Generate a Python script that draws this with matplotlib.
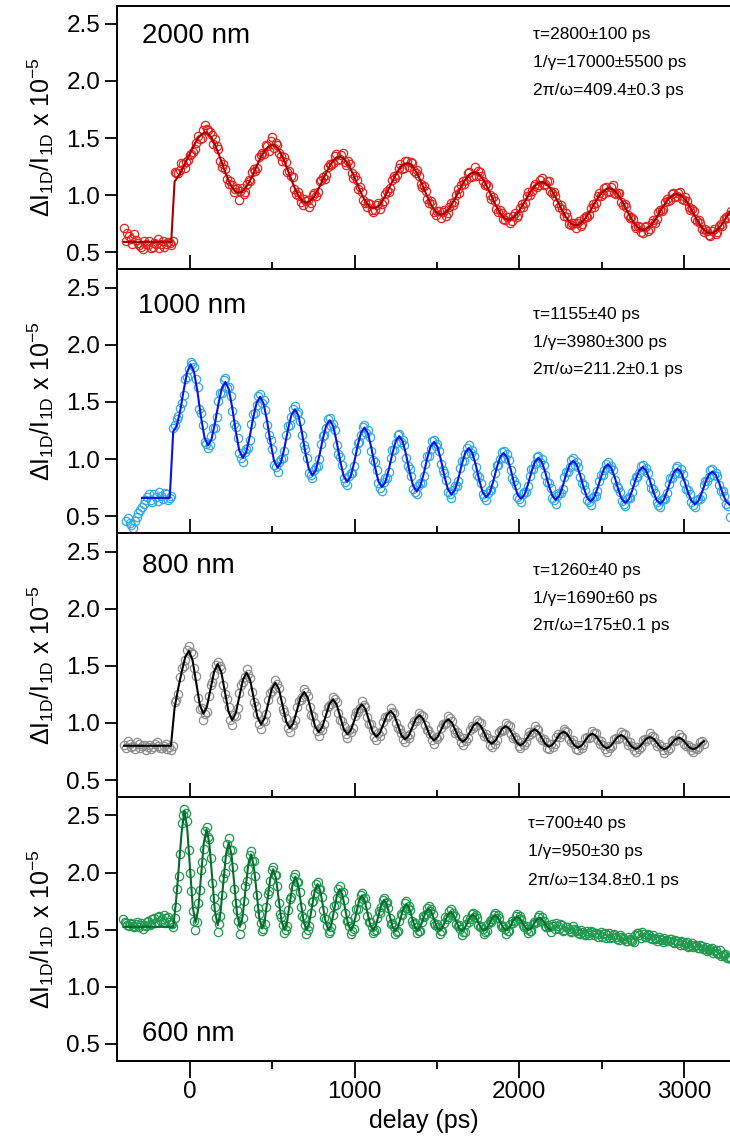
import numpy as np
import matplotlib
matplotlib.use('Agg')
import matplotlib.pyplot as plt
from matplotlib.ticker import MultipleLocator, FormatStrFormatter

# plt settings
plt.rcParams['font.family'] = ['Liberation Sans', 'DejaVu Sans']
plt.rcParams['mathtext.default'] = 'regular'

nan = np.nan

# ---- 2000 nm: two interleaved scans, each sampled every 2pi/w / 20 ----
t_2000 = np.arange(181) * 20.47 - 400.3
t_2000b = np.arange(180) * 20.47 - 390.07
sig_2000 = [
    0.71, 0.67, 0.62, 0.66, 0.58, 0.55, 0.60, 0.56, 0.54, 0.58, 0.62, 0.57, 0.55, 0.59, 0.56,
    1.20, 1.19, 1.28, 1.24, 1.31, 1.36, 1.40, 1.52, 1.50,
    1.61, 1.57, 1.53, 1.49, 1.40, 1.25, 1.23, 1.10, 1.09, 1.05,
    0.96, 1.06, 1.03, 1.13, 1.20, 1.21, 1.33, 1.37, 1.44, 1.39,
    1.51, 1.46, 1.37, 1.30, 1.29, 1.21, 1.16, 1.01, 0.99, 0.91,
    0.95, 0.90, 1.00, 0.99, 1.12, 1.16, 1.18, 1.27, 1.28, 1.36,
    1.32, 1.37, 1.26, 1.27, 1.15, 1.13, 1.07, 0.96, 0.90, 0.92,
    0.85, 0.91, 0.88, 0.95, 1.04, 1.06, 1.17, 1.18, 1.27, 1.24,
    1.30, 1.29, 1.21, 1.22, 1.10, 1.08, 0.97, 0.95, 0.85, 0.86,
    0.80, 0.87, 0.84, 0.93, 0.94, 1.05, 1.09, 1.10, 1.19, 1.16,
    1.25, 1.21, 1.17, 1.09, 1.08, 0.97, 0.95, 0.85, 0.84, 0.78,
    0.81, 0.77, 0.84, 0.83, 0.92, 0.93, 1.03, 1.04, 1.10, 1.09,
    1.15, 1.10, 1.12, 1.02, 0.99, 0.90, 0.88, 0.84, 0.75, 0.76,
    0.71, 0.77, 0.75, 0.82, 0.83, 0.92, 0.93, 1.02, 1.01, 1.07,
    1.04, 1.09, 1.01, 1.02, 0.91, 0.90, 0.80, 0.79, 0.71, 0.72,
    0.67, 0.73, 0.70, 0.78, 0.79, 0.87, 0.88, 0.97, 0.96, 1.02,
    0.99, 1.03, 0.96, 0.95, 0.87, 0.86, 0.77, 0.76, 0.68, 0.69,
    0.64, 0.70, 0.68, 0.75, 0.79, 0.80, 0.86,
]
sig_2000b = [
    0.60, 0.64, 0.57, 0.61, 0.56, 0.53, 0.57, 0.60, 0.55, 0.57, 0.54, 0.60, 0.57, 0.58,
    0.60,
    1.19, 1.22, 1.27, 1.29, 1.35, 1.38, 1.46, 1.49, 1.57,
    1.58, 1.55, 1.45, 1.43, 1.30, 1.27, 1.14, 1.12, 1.03, 1.06,
    1.04, 1.01, 1.10, 1.12, 1.23, 1.24, 1.35, 1.36, 1.43, 1.47,
    1.41, 1.44, 1.34, 1.33, 1.20, 1.17, 1.05, 1.03, 0.94, 0.97,
    0.96, 0.93, 1.02, 1.03, 1.13, 1.14, 1.25, 1.26, 1.34, 1.31,
    1.35, 1.29, 1.30, 1.19, 1.17, 1.05, 1.03, 0.93, 0.93, 0.87,
    0.87, 0.93, 0.92, 1.01, 1.03, 1.13, 1.15, 1.24, 1.23, 1.30,
    1.25, 1.28, 1.19, 1.17, 1.07, 1.04, 0.93, 0.92, 0.83, 0.86,
    0.85, 0.82, 0.90, 0.91, 1.00, 1.02, 1.12, 1.13, 1.20, 1.17,
    1.17, 1.20, 1.12, 1.10, 1.00, 0.98, 0.88, 0.87, 0.79, 0.81,
    0.76, 0.82, 0.81, 0.89, 0.90, 0.99, 1.00, 1.08, 1.07, 1.13,
    1.09, 1.12, 1.04, 1.03, 0.93, 0.91, 0.82, 0.81, 0.74, 0.76,
    0.76, 0.73, 0.80, 0.81, 0.89, 0.90, 0.99, 0.99, 1.06, 1.03,
    1.07, 1.02, 1.02, 0.94, 0.92, 0.83, 0.81, 0.73, 0.73, 0.68,
    0.72, 0.69, 0.76, 0.76, 0.85, 0.86, 0.94, 0.95, 1.01, 0.98,
    1.02, 0.97, 0.98, 0.90, 0.88, 0.79, 0.78, 0.70, 0.70, 0.65,
    0.69, 0.66, 0.73, 0.73, 0.81, 0.83,
]
fit_2000 = [
    0.59, 0.59, 0.59, 0.59, 0.59, 0.59, 0.59, 0.59, 0.59, 0.59, 0.59, 0.59, 0.59, 0.59, 0.59,
    1.12, 1.16, 1.21, 1.27, 1.33, 1.39, 1.45, 1.50, 1.53,
    1.550, 1.537, 1.499, 1.441, 1.367, 1.285, 1.203, 1.129, 1.071, 1.033,
    1.020, 1.030, 1.060, 1.107, 1.165, 1.230, 1.295, 1.353, 1.400, 1.430,
    1.440, 1.428, 1.392, 1.336, 1.265, 1.187, 1.109, 1.038, 0.982, 0.946,
    0.934, 0.944, 0.972, 1.017, 1.073, 1.135, 1.197, 1.253, 1.298, 1.326,
    1.336, 1.325, 1.293, 1.243, 1.180, 1.110, 1.041, 0.978, 0.928, 0.896,
    0.885, 0.894, 0.922, 0.966, 1.021, 1.082, 1.143, 1.199, 1.242, 1.270,
    1.280, 1.269, 1.237, 1.187, 1.125, 1.055, 0.985, 0.923, 0.873, 0.841,
    0.830, 0.839, 0.865, 0.906, 0.958, 1.015, 1.072, 1.124, 1.165, 1.191,
    1.200, 1.190, 1.161, 1.115, 1.057, 0.993, 0.929, 0.871, 0.825, 0.796,
    0.785, 0.793, 0.817, 0.853, 0.899, 0.950, 1.001, 1.047, 1.083, 1.107,
    1.115, 1.106, 1.079, 1.037, 0.984, 0.925, 0.866, 0.813, 0.771, 0.744,
    0.735, 0.743, 0.767, 0.802, 0.848, 0.898, 0.948, 0.994, 1.029, 1.052,
    1.060, 1.052, 1.026, 0.985, 0.934, 0.878, 0.822, 0.771, 0.730, 0.704,
    0.695, 0.703, 0.726, 0.760, 0.804, 0.853, 0.902, 0.946, 0.980, 1.003,
    1.010, 1.002, 0.978, 0.939, 0.891, 0.838, 0.785, 0.737, 0.698, 0.674,
    0.665, 0.673, 0.695, 0.728, 0.771, 0.818, 0.865,
]

# ---- 1000 nm: sampled every 2pi/w / 10 ----
t_1000 = np.arange(176) * 21.12 - 418.4
t_1000b = np.arange(175) * 21.12 - 407.84
sig_1000 = [
    nan, nan, 0.48, 0.42, 0.46, 0.53, 0.58, 0.64, 0.69, 0.62, 0.67, 0.71, 0.65, 0.69, 0.66,
    1.27, 1.35, 1.45, 1.56, 1.72,
    1.85, 1.81, 1.63, 1.40, 1.15, 1.10, 1.20, 1.27, 1.51, 1.58,
    1.71, 1.63, 1.42, 1.28, 1.05, 0.97, 1.09, 1.17, 1.39, 1.47,
    1.57, 1.52, 1.30, 1.17, 0.95, 0.89, 1.00, 1.07, 1.29, 1.37,
    1.46, 1.41, 1.21, 1.09, 0.88, 0.83, 0.93, 1.00, 1.20, 1.27,
    1.36, 1.31, 1.12, 1.02, 0.83, 0.77, 0.88, 0.94, 1.14, 1.21,
    1.30, 1.25, 1.07, 0.97, 0.79, 0.72, 0.83, 0.89, 1.08, 1.14,
    1.22, 1.17, 1.01, 0.91, 0.74, 0.69, 0.79, 0.85, 1.03, 1.09,
    1.17, 1.13, 0.96, 0.88, 0.71, 0.66, 0.76, 0.81, 0.98, 1.04,
    1.12, 1.08, 0.93, 0.84, 0.69, 0.64, 0.73, 0.78, 0.95, 1.00,
    1.07, 1.04, 0.90, 0.81, 0.67, 0.62, 0.71, 0.76, 0.91, 0.96,
    1.03, 1.00, 0.86, 0.79, 0.66, 0.61, 0.70, 0.74, 0.89, 0.93,
    1.01, 0.97, 0.84, 0.77, 0.64, 0.60, 0.68, 0.72, 0.86, 0.90,
    0.97, 0.94, 0.82, 0.75, 0.63, 0.59, 0.67, 0.71, 0.84, 0.88,
    0.95, 0.92, 0.80, 0.74, 0.62, 0.58, 0.66, 0.70, 0.83, 0.87,
    0.94, 0.91, 0.79, 0.73, 0.62, 0.58, 0.65, 0.68, 0.81, 0.84,
    0.91, 0.88, 0.77, 0.72, 0.61, 0.49,
]
sig_1000b = [
    nan, 0.46, 0.44, 0.40, 0.49, 0.55, 0.61, 0.67, 0.64, 0.69, 0.63, 0.68, 0.70, 0.64, 0.68,
    1.30, 1.38, 1.49, 1.70, 1.79,
    1.83, 1.70, 1.44, 1.30, 1.13, 1.12, 1.27, 1.37, 1.58, 1.69,
    1.62, 1.55, 1.31, 1.18, 1.01, 1.06, 1.10, 1.31, 1.40, 1.55,
    1.49, 1.43, 1.21, 1.09, 0.93, 0.97, 1.01, 1.21, 1.30, 1.44,
    1.39, 1.33, 1.12, 1.01, 0.86, 0.90, 0.94, 1.13, 1.21, 1.35,
    1.29, 1.25, 1.04, 0.95, 0.80, 0.85, 0.88, 1.07, 1.15, 1.28,
    1.23, 1.19, 0.99, 0.90, 0.75, 0.80, 0.83, 1.01, 1.08, 1.21,
    1.15, 1.12, 0.94, 0.85, 0.71, 0.76, 0.79, 0.96, 1.03, 1.16,
    1.11, 1.07, 0.90, 0.82, 0.69, 0.73, 0.76, 0.92, 0.98, 1.10,
    1.05, 1.03, 0.86, 0.79, 0.67, 0.70, 0.73, 0.88, 0.95, 1.06,
    1.01, 0.99, 0.83, 0.77, 0.65, 0.69, 0.71, 0.85, 0.91, 1.02,
    0.97, 0.95, 0.80, 0.75, 0.64, 0.68, 0.70, 0.84, 0.89, 0.99,
    0.95, 0.93, 0.79, 0.73, 0.62, 0.66, 0.68, 0.81, 0.86, 0.96,
    0.92, 0.90, 0.76, 0.71, 0.61, 0.65, 0.66, 0.80, 0.84, 0.94,
    0.90, 0.88, 0.75, 0.70, 0.60, 0.64, 0.65, 0.78, 0.83, 0.92,
    0.88, 0.87, 0.74, 0.69, 0.60, 0.64, 0.65, 0.77, 0.81, 0.90,
    0.86, 0.85, 0.72, 0.68, 0.59,
]
fit_1000 = [
    nan, nan, nan, nan, nan, nan, 0.66, 0.66, 0.66, 0.66, 0.66, 0.66, 0.66, 0.66, 0.66,
    1.24, 1.29, 1.42, 1.60, 1.76,
    1.83, 1.762, 1.585, 1.365, 1.188, 1.12, 1.173, 1.312, 1.483, 1.622,
    1.675, 1.611, 1.445, 1.240, 1.074, 1.01, 1.061, 1.195, 1.360, 1.494,
    1.545, 1.486, 1.331, 1.139, 0.984, 0.925, 0.974, 1.101, 1.259, 1.386,
    1.435, 1.380, 1.235, 1.057, 0.912, 0.857, 0.903, 1.024, 1.173, 1.294,
    1.34, 1.288, 1.153, 0.987, 0.852, 0.80, 0.845, 0.964, 1.111, 1.230,
    1.275, 1.225, 1.095, 0.935, 0.805, 0.755, 0.797, 0.909, 1.046, 1.158,
    1.20, 1.154, 1.033, 0.885, 0.764, 0.718, 0.759, 0.867, 1.001, 1.109,
    1.15, 1.106, 0.991, 0.849, 0.734, 0.69, 0.729, 0.830, 0.956, 1.057,
    1.096, 1.055, 0.948, 0.815, 0.708, 0.667, 0.704, 0.800, 0.920, 1.016,
    1.053, 1.015, 0.915, 0.791, 0.691, 0.653, 0.687, 0.776, 0.887, 0.976,
    1.01, 0.975, 0.884, 0.770, 0.679, 0.644, 0.677, 0.762, 0.867, 0.952,
    0.985, 0.951, 0.862, 0.753, 0.664, 0.63, 0.661, 0.742, 0.841, 0.922,
    0.953, 0.921, 0.837, 0.733, 0.649, 0.617, 0.647, 0.725, 0.822, 0.900,
    0.93, 0.899, 0.819, 0.720, 0.640, 0.609, 0.638, 0.715, 0.809, 0.886,
    0.915, 0.885, 0.808, 0.712, 0.635, 0.605, 0.632, 0.703, 0.792, 0.863,
    0.89, 0.862, 0.790, 0.700, 0.628, 0.60,
]

# ---- 800 nm: sampled every 2pi/w / 8 ----
t_800 = np.arange(162) * 21.875 - 399.75
t_800b = np.arange(161) * 21.875 - 388.8
sig_800 = [
    0.81, 0.84, 0.79, 0.77, 0.82, 0.80, 0.76, 0.81, 0.79, 0.83, 0.78, 0.80, 0.77, 0.76,
    1.18, 1.25, 1.48, 1.55,
    1.67, 1.60, 1.41, 1.12, 1.03, 1.10, 1.33, 1.42,
    1.53, 1.47, 1.25, 1.14, 0.98, 1.06, 1.26, 1.36,
    1.47, 1.39, 1.18, 1.08, 0.95, 1.02, 1.20, 1.28,
    1.38, 1.31, 1.12, 1.04, 0.92, 0.98, 1.14, 1.20,
    1.30, 1.24, 1.07, 1.00, 0.89, 0.94, 1.09, 1.15,
    1.23, 1.18, 1.03, 0.97, 0.87, 0.92, 1.06, 1.10,
    1.19, 1.14, 0.99, 0.94, 0.85, 0.89, 1.01, 1.05,
    1.13, 1.09, 0.96, 0.91, 0.83, 0.87, 0.98, 1.02,
    1.09, 1.06, 0.94, 0.90, 0.82, 0.86, 0.96, 0.99,
    1.06, 1.02, 0.91, 0.89, 0.81, 0.84, 0.94, 0.96,
    1.03, 1.00, 0.89, 0.87, 0.79, 0.82, 0.92, 0.93,
    1.00, 0.97, 0.87, 0.85, 0.78, 0.81, 0.89, 0.90,
    0.97, 0.94, 0.85, 0.83, 0.77, 0.79, 0.88, 0.88,
    0.95, 0.92, 0.83, 0.82, 0.76, 0.78, 0.87, 0.87,
    0.93, 0.91, 0.82, 0.81, 0.75, 0.78, 0.86, 0.86,
    0.92, 0.90, 0.81, 0.80, 0.75, 0.77, 0.85, 0.84,
    0.91, 0.88, 0.80, 0.80, 0.74, 0.76, 0.84, 0.84,
    0.90, 0.88, 0.80, 0.79, 0.75, 0.77, 0.83, 0.82,
]
sig_800b = [
    0.78, 0.82, 0.80, 0.83, 0.78, 0.81, 0.79, 0.77, 0.82, 0.80, 0.78, 0.82, 0.79,
    0.80, 1.20, 1.40, 1.50, 1.64,
    1.62, 1.48, 1.22, 1.13, 1.08, 1.24, 1.36, 1.51,
    1.50, 1.33, 1.21, 1.03, 1.07, 1.13, 1.33, 1.40,
    1.43, 1.27, 1.15, 0.99, 1.03, 1.08, 1.26, 1.31,
    1.34, 1.20, 1.10, 0.96, 0.99, 1.03, 1.19, 1.23,
    1.27, 1.14, 1.06, 0.93, 0.96, 0.99, 1.14, 1.17,
    1.21, 1.09, 1.02, 0.90, 0.94, 0.96, 1.10, 1.13,
    1.16, 1.05, 0.99, 0.88, 0.91, 0.93, 1.05, 1.07,
    1.10, 1.00, 0.95, 0.86, 0.89, 0.90, 1.02, 1.04,
    1.07, 0.98, 0.94, 0.85, 0.88, 0.89, 0.99, 1.00,
    1.04, 0.95, 0.92, 0.83, 0.87, 0.87, 0.97, 0.97,
    1.01, 0.92, 0.90, 0.81, 0.85, 0.85, 0.94, 0.94,
    0.98, 0.90, 0.88, 0.80, 0.83, 0.83, 0.92, 0.92,
    0.95, 0.88, 0.86, 0.78, 0.82, 0.82, 0.90, 0.90,
    0.93, 0.86, 0.85, 0.77, 0.81, 0.81, 0.88, 0.88,
    0.91, 0.85, 0.84, 0.77, 0.80, 0.80, 0.87, 0.87,
    0.90, 0.84, 0.83, 0.76, 0.79, 0.79, 0.86, 0.86,
    0.89, 0.83, 0.82, 0.76, 0.79, 0.78, 0.85, 0.85,
    0.88, 0.82, 0.81, 0.76, 0.78, 0.79, 0.84,
]
fit_800 = [
    0.80, 0.80, 0.80, 0.80, 0.80, 0.80, 0.80, 0.80, 0.80, 0.80, 0.80, 0.80, 0.80, 0.80,
    1.13, 1.30, 1.45, 1.58,
    1.63, 1.549, 1.355, 1.161, 1.08, 1.144, 1.298, 1.451,
    1.515, 1.443, 1.27, 1.097, 1.025, 1.086, 1.233, 1.379,
    1.44, 1.374, 1.214, 1.054, 0.988, 1.041, 1.17, 1.299,
    1.352, 1.294, 1.153, 1.011, 0.953, 1.0, 1.112, 1.224,
    1.271, 1.22, 1.096, 0.971, 0.92, 0.962, 1.064, 1.165,
    1.207, 1.162, 1.054, 0.945, 0.90, 0.939, 1.032, 1.124,
    1.163, 1.121, 1.021, 0.921, 0.879, 0.912, 0.992, 1.071,
    1.104, 1.068, 0.98, 0.892, 0.856, 0.887, 0.962, 1.037,
    1.068, 1.036, 0.958, 0.88, 0.848, 0.875, 0.94, 1.005,
    1.032, 1.003, 0.934, 0.865, 0.836, 0.86, 0.919, 0.978,
    1.002, 0.975, 0.91, 0.845, 0.818, 0.841, 0.896, 0.95,
    0.973, 0.948, 0.889, 0.829, 0.804, 0.825, 0.874, 0.923,
    0.944, 0.922, 0.868, 0.814, 0.792, 0.811, 0.858, 0.904,
    0.923, 0.902, 0.853, 0.804, 0.783, 0.801, 0.845, 0.888,
    0.906, 0.887, 0.842, 0.797, 0.778, 0.795, 0.836, 0.877,
    0.894, 0.876, 0.833, 0.79, 0.772, 0.787, 0.825, 0.862,
    0.877, 0.861, 0.823, 0.785, 0.769, 0.784, 0.82, 0.856,
    0.871, 0.856, 0.82, 0.784, 0.769, 0.782, 0.815, 0.84,
]

# ---- 600 nm: sampled every 2pi/w / 8, fit stops near 2200 ps ----
t_600 = np.arange(220) * 16.85 - 404.5
t_600b = np.arange(219) * 16.85 - 396.08
sig_600 = [
    1.59, 1.56, 1.53, 1.55, 1.52, 1.57, 1.54, 1.51, 1.53, 1.58, 1.55, 1.60, 1.57, 1.62, 1.59, 1.56, 1.61, 1.55, 1.52,
    1.70, 1.97, 2.43,
    2.56, 2.45, 2.00, 1.66, 1.50, 1.73, 2.02, 2.21,
    2.40, 2.29, 1.91, 1.70, 1.48, 1.62, 1.95, 2.12,
    2.30, 2.20, 1.86, 1.67, 1.46, 1.60, 1.88, 2.03,
    2.19, 2.10, 1.80, 1.64, 1.49, 1.55, 1.81, 1.93,
    2.05, 1.98, 1.73, 1.61, 1.47, 1.53, 1.77, 1.88,
    1.99, 1.92, 1.70, 1.60, 1.46, 1.53, 1.74, 1.82,
    1.92, 1.86, 1.67, 1.59, 1.47, 1.52, 1.71, 1.78,
    1.88, 1.83, 1.65, 1.58, 1.46, 1.51, 1.68, 1.74,
    1.82, 1.78, 1.62, 1.57, 1.47, 1.50, 1.66, 1.70,
    1.78, 1.74, 1.60, 1.56, 1.46, 1.49, 1.64, 1.67,
    1.75, 1.71, 1.58, 1.56, 1.47, 1.49, 1.62, 1.64,
    1.71, 1.68, 1.56, 1.55, 1.46, 1.49, 1.61, 1.61,
    1.68, 1.65, 1.55, 1.54, 1.45, 1.48, 1.59, 1.59,
    1.65, 1.63, 1.54, 1.53, 1.46, 1.49, 1.58, 1.59,
    1.65, 1.63, 1.54, 1.53, 1.46, 1.49, 1.58, 1.58,
    1.64, 1.62, 1.54, 1.53, 1.47, 1.49, 1.57, 1.57,
    1.63, 1.61, 1.53, 1.54, 1.48,
    1.53, 1.56, 1.51, 1.54, 1.50, 1.52, 1.49, 1.53, 1.50,
    1.47, 1.50, 1.46, 1.49, 1.45, 1.48, 1.47, 1.44, 1.48,
    1.46, 1.43, 1.47, 1.44, 1.46, 1.42, 1.45, 1.43, 1.40, 1.44, 1.41, 1.39,
    1.47, 1.45, 1.48, 1.44, 1.46, 1.43, 1.45,
    1.42, 1.44, 1.41, 1.43, 1.40, 1.42, 1.39, 1.41, 1.38, 1.40, 1.37, 1.39, 1.36, 1.38,
    1.36, 1.34, 1.37, 1.33, 1.35, 1.32, 1.34, 1.31, 1.30, 1.32, 1.28, 1.29, 1.26, 1.24,
]
sig_600b = [
    1.57, 1.54, 1.56, 1.53, 1.55, 1.52, 1.56, 1.54, 1.57, 1.54, 1.59, 1.56, 1.61, 1.58, 1.63, 1.60, 1.57, 1.55,
    1.60, 1.86, 2.16, 2.50,
    2.52, 2.20, 1.84, 1.58, 1.57, 1.85, 2.09, 2.36,
    2.31, 2.13, 1.78, 1.60, 1.55, 1.80, 2.00, 2.25,
    2.20, 2.05, 1.73, 1.58, 1.53, 1.75, 1.93, 2.15,
    2.10, 1.97, 1.69, 1.56, 1.51, 1.70, 1.84, 2.02,
    1.98, 1.88, 1.64, 1.54, 1.50, 1.67, 1.79, 1.96,
    1.92, 1.83, 1.62, 1.54, 1.50, 1.65, 1.75, 1.90,
    1.86, 1.79, 1.60, 1.53, 1.49, 1.63, 1.72, 1.86,
    1.82, 1.76, 1.58, 1.53, 1.49, 1.61, 1.68, 1.80,
    1.77, 1.72, 1.57, 1.52, 1.49, 1.60, 1.65, 1.76,
    1.73, 1.69, 1.55, 1.52, 1.48, 1.58, 1.63, 1.73,
    1.69, 1.67, 1.55, 1.52, 1.49, 1.57, 1.61, 1.69,
    1.66, 1.64, 1.54, 1.52, 1.49, 1.56, 1.59, 1.66,
    1.63, 1.62, 1.53, 1.51, 1.48, 1.55, 1.57, 1.64,
    1.61, 1.60, 1.52, 1.51, 1.48, 1.55, 1.57, 1.63,
    1.60, 1.60, 1.52, 1.51, 1.49, 1.55, 1.56, 1.62,
    1.59, 1.59, 1.52, 1.51, 1.49, 1.55, 1.56, 1.61,
    1.58, 1.58, 1.52, 1.52,
    1.55, 1.51, 1.53, 1.55, 1.49, 1.52, 1.51, 1.48, 1.51,
    1.49, 1.46, 1.48, 1.45, 1.47, 1.49, 1.45, 1.47, 1.46,
    1.44, 1.47, 1.45, 1.43, 1.45, 1.44, 1.41, 1.44, 1.42, 1.40, 1.42, 1.40,
    1.45, 1.47, 1.43, 1.46, 1.44, 1.45, 1.42,
    1.43, 1.40, 1.42, 1.39, 1.41, 1.40, 1.42, 1.38, 1.40, 1.37, 1.39, 1.38, 1.35, 1.37,
    1.35, 1.37, 1.34, 1.36, 1.33, 1.31, 1.33, 1.30, 1.32, 1.29, 1.27, 1.28, 1.25, 1.26,
]
fit_600 = [
    1.525, 1.525, 1.525, 1.525, 1.525, 1.525, 1.525, 1.525, 1.525, 1.525,
    1.525, 1.525, 1.525, 1.525, 1.525, 1.525, 1.525, 1.525, 1.525,
    1.75, 2.05, 2.35,
    2.54, 2.396, 2.05, 1.704, 1.56, 1.68, 1.97, 2.26,
    2.38, 2.257, 1.96, 1.663, 1.54, 1.646, 1.903, 2.159,
    2.265, 2.157, 1.895, 1.633, 1.525, 1.618, 1.843, 2.067,
    2.16, 2.065, 1.835, 1.605, 1.51, 1.586, 1.77, 1.954,
    2.03, 1.952, 1.765, 1.578, 1.50, 1.568, 1.733, 1.897,
    1.965, 1.897, 1.733, 1.568, 1.50, 1.559, 1.70, 1.841,
    1.90, 1.841, 1.699, 1.556, 1.497, 1.549, 1.676, 1.803,
    1.855, 1.803, 1.676, 1.549, 1.497, 1.541, 1.649, 1.756,
    1.80, 1.755, 1.648, 1.54, 1.495, 1.534, 1.628, 1.721,
    1.76, 1.72, 1.625, 1.53, 1.49, 1.524, 1.608, 1.691,
    1.725, 1.691, 1.61, 1.529, 1.495, 1.523, 1.59, 1.657,
    1.685, 1.657, 1.59, 1.523, 1.495, 1.518, 1.575, 1.632,
    1.655, 1.631, 1.573, 1.514, 1.49, 1.511, 1.561, 1.611,
    1.632, 1.611, 1.562, 1.513, 1.492, 1.511, 1.559, 1.606,
    1.625, 1.606, 1.56, 1.514, 1.495, 1.513, 1.555, 1.597,
    1.615, 1.598, 1.557, 1.515, 1.498, 1.514, 1.552, 1.589,
    1.605, 1.59, 1.553, 1.515, 1.50,
]

names = ['2000 nm', '1000 nm', '800 nm', '600 nm']
fit_params = [
    ['τ=2800±100 ps', '1/γ=17000±5500 ps', '2π/ω=409.4±0.3 ps'],
    ['τ=1155±40 ps', '1/γ=3980±300 ps', '2π/ω=211.2±0.1 ps'],
    ['τ=1260±40 ps', '1/γ=1690±60 ps', '2π/ω=175±0.1 ps'],
    ['τ=700±40 ps', '1/γ=950±30 ps', '2π/ω=134.8±0.1 ps'],
]
scans = [
    [(t_2000, sig_2000), (t_2000b, sig_2000b)],
    [(t_1000, sig_1000), (t_1000b, sig_1000b)],
    [(t_800, sig_800), (t_800b, sig_800b)],
    [(t_600, sig_600), (t_600b, sig_600b)],
]
fits = [(t_2000, fit_2000), (t_1000, fit_1000), (t_800, fit_800), (t_600, fit_600)]
dot_colors = ['#e2231f', '#2eaae8', '#8e8e8e', '#1f9a4e']
line_colors = ['#a30000', '#0a10e6', '#000000', '#086a2f']

# ---- layout (pixels of a 730 x 1142 canvas) ----
W, H = 730, 1142
left_px, panel_h = 117, 263.9
tops_px = [5.5, 269.4, 533.3, 797.2]
name_pos = [(0.041, 0.886), (0.035, 0.860), (0.041, 0.875), (0.041, 0.102)]
param_pos = [(0.679, [0.890, 0.784, 0.678]),
             (0.679, [0.829, 0.723, 0.621]),
             (0.679, [0.860, 0.754, 0.651]),
             (0.670, [0.901, 0.794, 0.686])]

fig = plt.figure(figsize=(W / 100, H / 100), dpi=100)
for i in range(4):
    bottom = 1 - (tops_px[i] + panel_h) / H
    ax = fig.add_axes([left_px / W, bottom, 1 - left_px / W, panel_h / H])

    for t, s in scans[i]:
        ax.plot(t, s, linestyle='none', marker='o', markersize=6,
                markerfacecolor='none', markeredgecolor=dot_colors[i], markeredgewidth=0.9)
    tf, yf = fits[i]
    ax.plot(tf[:len(yf)], yf, color=line_colors[i], linewidth=1.5)

    ax.set_xlim(-443, 3280)
    ax.set_ylim(0.35, 2.66)
    ax.xaxis.set_major_locator(MultipleLocator(1000))
    ax.xaxis.set_minor_locator(MultipleLocator(500))
    ax.yaxis.set_major_locator(MultipleLocator(0.5))
    ax.yaxis.set_major_formatter(FormatStrFormatter('%.1f'))

    for side in ['left', 'top', 'bottom']:
        ax.spines[side].set_linewidth(1.4)
    ax.spines['right'].set_visible(False)

    ax.tick_params(axis='y', which='major', direction='out', length=9, width=1.3,
                   labelsize=17.5, pad=3, right=False)
    if i < 3:
        ax.tick_params(axis='x', which='major', direction='in', length=10, width=1.3,
                       labelbottom=False, top=False)
        ax.tick_params(axis='x', which='minor', direction='in', length=5, width=1.3, top=False)
    else:
        ax.tick_params(axis='x', which='major', direction='out', length=12, width=1.3,
                       labelsize=17.5, pad=2, top=False)
        ax.tick_params(axis='x', which='minor', direction='out', length=6, width=1.3, top=False)

    ax.text(name_pos[i][0], name_pos[i][1], names[i], transform=ax.transAxes,
            fontsize=20, ha='left', va='center')
    px_x, px_ys = param_pos[i]
    for line, yy in zip(fit_params[i], px_ys):
        ax.text(px_x, yy, line, transform=ax.transAxes, fontsize=12.5, ha='left', va='center')

    # y label, one per panel
    fig.text(41 / W, 1 - (tops_px[i] + panel_h / 2) / H,
             'ΔI$_{1D}$/I$_{1D}$ x 10$^{-5}$', rotation=90,
             ha='center', va='center', fontsize=18)

fig.text((left_px + W) / 2 / W, 1 - 1121 / H, 'delay (ps)', ha='center', va='center', fontsize=18)

fig.savefig('out.png', dpi=100)
